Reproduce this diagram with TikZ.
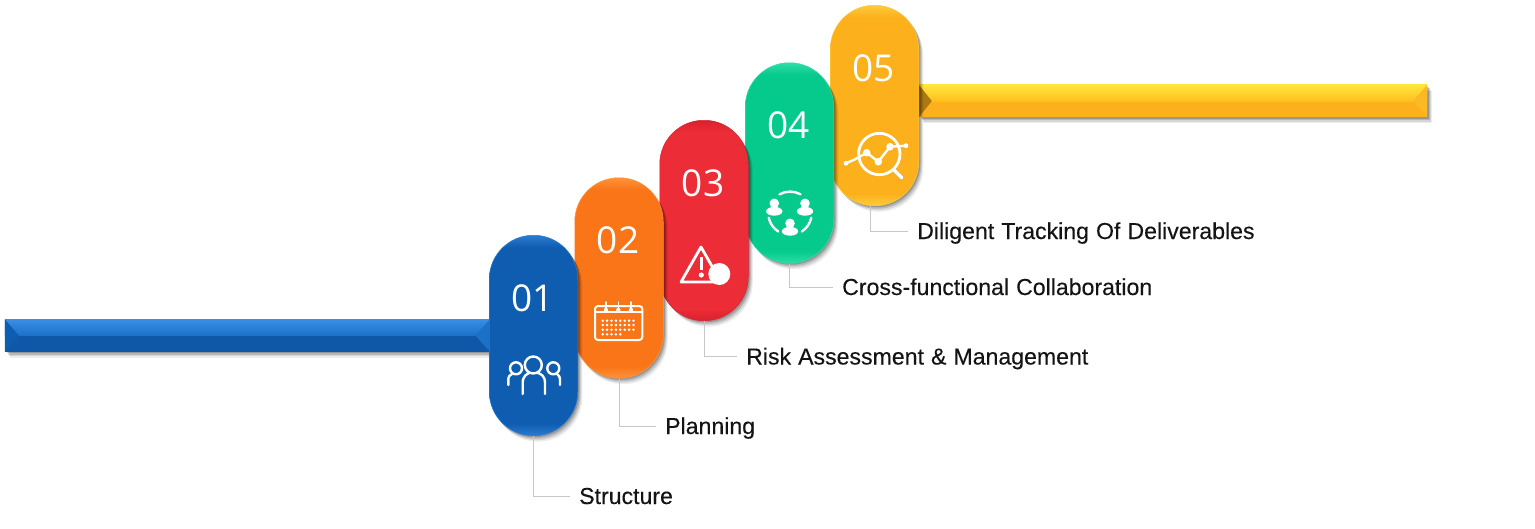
\documentclass[tikz,border=0pt]{standalone}
\usepackage{fontspec}
\setmainfont{Liberation Sans}[WordSpace=1.1,FakeBold=0.25]
\newfontfamily\numfont{Open Sans}
\usetikzlibrary{shadows,calc}

\definecolor{blueM}{HTML}{0F5DB0}
\definecolor{blueR}{HTML}{2A7BD2}
\definecolor{blueT}{HTML}{3A8EE4}
\definecolor{blueU}{HTML}{1B71C8}
\definecolor{oranM}{HTML}{F97518}
\definecolor{oranR}{HTML}{FF9238}
\definecolor{redM}{HTML}{EC2C36}
\definecolor{redR}{HTML}{D8222E}
\definecolor{greeM}{HTML}{06CA8C}
\definecolor{greeR}{HTML}{2EDDA6}
\definecolor{ambeM}{HTML}{FBB01C}
\definecolor{ambeR}{HTML}{FFCB3C}
\definecolor{ambeT}{HTML}{FFE53C}
\definecolor{ambeU}{HTML}{FFC01E}

\newcommand{\pillshade}[3]{\pgfdeclareverticalshading{#1}{100bp}{color(0bp)=(#3); color(25bp)=(#3); color(28bp)=(#2); color(72bp)=(#2); color(75bp)=(#3); color(100bp)=(#3)}}
\pillshade{pillBlue}{blueM}{blueR}
\pillshade{pillOran}{oranM}{oranR}
\pillshade{pillRed}{redM}{redR}
\pillshade{pillGree}{greeM}{greeR}
\pillshade{pillAmbe}{ambeM}{ambeR}

\begin{document}
\begin{tikzpicture}
  [x=1pt,y=-1pt,
   softS/.style={
     drop shadow={shadow xshift=4.5pt,shadow yshift=-6pt,opacity=.07,fill=black},
     drop shadow={shadow xshift=3.5pt,shadow yshift=-4.5pt,opacity=.1,fill=black},
     drop shadow={shadow xshift=2.5pt,shadow yshift=-3pt,opacity=.14,fill=black},
     drop shadow={shadow xshift=1.5pt,shadow yshift=-1.5pt,opacity=.18,fill=black}},
   pillN/.style={rectangle,rounded corners=44pt,minimum width=88.5pt,minimum height=200.5pt,inner sep=0pt,
     line width=0.5pt,softS},
   barN/.style={rectangle,minimum height=32pt,inner sep=0pt,softS},
   numN/.style={text=white,font=\numfont\fontsize{37}{40}\selectfont,inner sep=0pt},
   lblN/.style={anchor=west,inner xsep=9pt,inner ysep=0pt,text=black!92,text height=16pt,text depth=0pt,
     font=\fontsize{23.1}{26}\selectfont},
   conN/.style={draw=black!22,line width=1pt},
   iconL/.style={draw=white,line width=2.4pt,line cap=round,line join=round},
   iconF/.style={fill=white},
  ]
 \useasboundingbox (0,0) rectangle (1535,528);

 % bars
 \node[barN,fill=blueM!95!black,minimum width=485pt] (barB) at (247.5,335.5) {};
 \fill[top color=blueT,bottom color=blueU] (barB.north west) rectangle (barB.east);
 \fill[blueM] (barB.north west) -- ([xshift=14]barB.west) -- (barB.south west) -- cycle;
 \fill[blueU] (barB.north east) -- ([xshift=-15]barB.east) -- (barB.south east) -- cycle;

 \node[barN,fill=ambeM,minimum width=508pt] (barY) at (1173,101) {};
 \fill[top color=ambeT,bottom color=ambeU] (barY.north west) rectangle (barY.east);
 \fill[ambeM!68!black] (barY.north west) -- ([xshift=13]barY.west) -- (barY.south west) -- cycle;
 \fill[ambeM!70!ambeR] (barY.north east) -- ([xshift=-14]barY.east) -- (barY.south east) -- cycle;

 % pills, the lower ones on top
 \node[pillN,shading=pillAmbe,draw=ambeR] (pill5) at (874.5,105.5) {};
 \node[pillN,shading=pillGree,draw=greeR] (pill4) at (789.5,163) {};
 \node[pillN,shading=pillRed,draw=redR] (pill3) at (704,220.5) {};
 \node[pillN,shading=pillOran,draw=oranR] (pill2) at (619,278) {};
 \node[pillN,shading=pillBlue,draw=blueR] (pill1) at (533.5,335.5) {};

 \node[numN] (num1) at ([xshift=-1,yshift=37.5]pill1.center) {01};
 \node[numN] (num2) at ([xshift=-1,yshift=37.5]pill2.center) {02};
 \node[numN] (num3) at ([xshift=-1,yshift=37.5]pill3.center) {03};
 \node[numN] (num4) at ([xshift=-1,yshift=37.5]pill4.center) {04};
 \node[numN] (num5) at ([xshift=-1,yshift=37.5]pill5.center) {05};

 % labels
 \node[lblN] (lab1) at (570,496) {Structure};
 \node[lblN] (lab2) at (656,426) {Planning};
 \node[lblN] (lab3) at (737,356.5) {Risk Assessment \& Management};
 \node[lblN] (lab4) at (833,287) {Cross-functional Collaboration};
 \node[lblN] (lab5) at (908,231) {Diligent Tracking Of Deliverables};

 \draw[conN] (pill1.south) |- (lab1.west);
 \draw[conN] (pill2.south) |- (lab2.west);
 \draw[conN] (pill3.south) |- (lab3.west);
 \draw[conN] (pill4.south) |- (lab4.west);
 \draw[conN] ([xshift=-4.5]pill5.south) |- (lab5.west);

 % people
 \draw[iconL] (533.3,365) circle[radius=8.5pt];
 \draw[iconL] (516,368.3) circle[radius=6pt];
 \draw[iconL] (553.3,368.3) circle[radius=6pt];
 \draw[iconL] (522.7,394) -- (522.7,383) .. controls (522.7,376) and (527,374) .. (529,373);
 \draw[iconL] (545,394) -- (545,383) .. controls (545,376) and (541,374) .. (538,373);
 \draw[iconL] (508.3,385) -- (508.3,380) .. controls (508.3,376) and (510,375) .. (512,374);
 \draw[iconL] (560,385) -- (560,380) .. controls (560,376) and (558,375) .. (557,374);

 % calendar
 \draw[iconL,line width=2pt] (595,306) [rounded corners=3pt] rectangle (642.3,340);
 \draw[iconL,line width=1.5pt] (595,312) -- (642.3,312);
 \foreach \x in {606,618.3,631}{
   \draw[iconL,line width=1.5pt] (\x,302) -- (\x,309);
   \fill[iconF] (\x,310) circle[radius=2.2pt];
 }
 \foreach \y in {320.7,325,329.7}
   \foreach \i in {0,...,7}
     \fill[iconF] (602.7+4.4*\i,\y) circle[radius=1.4pt];
 \foreach \i in {0,...,4}
   \fill[iconF] (602.7+4.4*\i,334.3) circle[radius=1.4pt];

 % warning
 \draw[iconL,line width=2.8pt] (701,247) -- (681,282) -- (721,282) -- cycle;
 \draw[iconL,line width=3.5pt,line cap=butt] (701.3,256.7) -- (701.3,270);
 \fill[iconF] (701.3,275) circle[radius=2.6pt];
 \fill[iconF] (719.3,274) circle[radius=11pt];

 % team
 \coordinate (cir4) at (790,213.3);
 \draw[iconL] ($(cir4)+(61:21.7pt)$) arc[start angle=61,end angle=119,radius=21.7pt];
 \draw[iconL] ($(cir4)+(192:21.7pt)$) arc[start angle=192,end angle=237,radius=21.7pt];
 \draw[iconL] ($(cir4)+(303:21.7pt)$) arc[start angle=303,end angle=348,radius=21.7pt];
 \foreach \x/\y in {774.3/203.3,805/203.3,790/223.3}{
   \fill[iconF] (\x,\y) circle[radius=4.8pt];
   \fill[iconF] (\x,\y+8) ellipse[x radius=8.2pt,y radius=4.4pt];
 }

 % tracking
 \draw[iconL,line width=2.8pt] (879.3,154) circle[radius=20.7pt];
 \draw[iconL,line width=3.2pt] (894,170) -- (901.7,177.7);
 \draw[iconL] (846,163.3) -- (855,159.3) -- (866.7,152.7) -- (878.3,161.7) -- (890,146.7) -- (906,145.7);
 \foreach \x/\y/\r in {846/163.3/2.4,866.7/152.7/3.8,878.3/161.7/3.8,890/146.7/3.8,906/145.7/2.4}
   \fill[iconF] (\x,\y) circle[radius=\r pt];
\end{tikzpicture}
\end{document}
